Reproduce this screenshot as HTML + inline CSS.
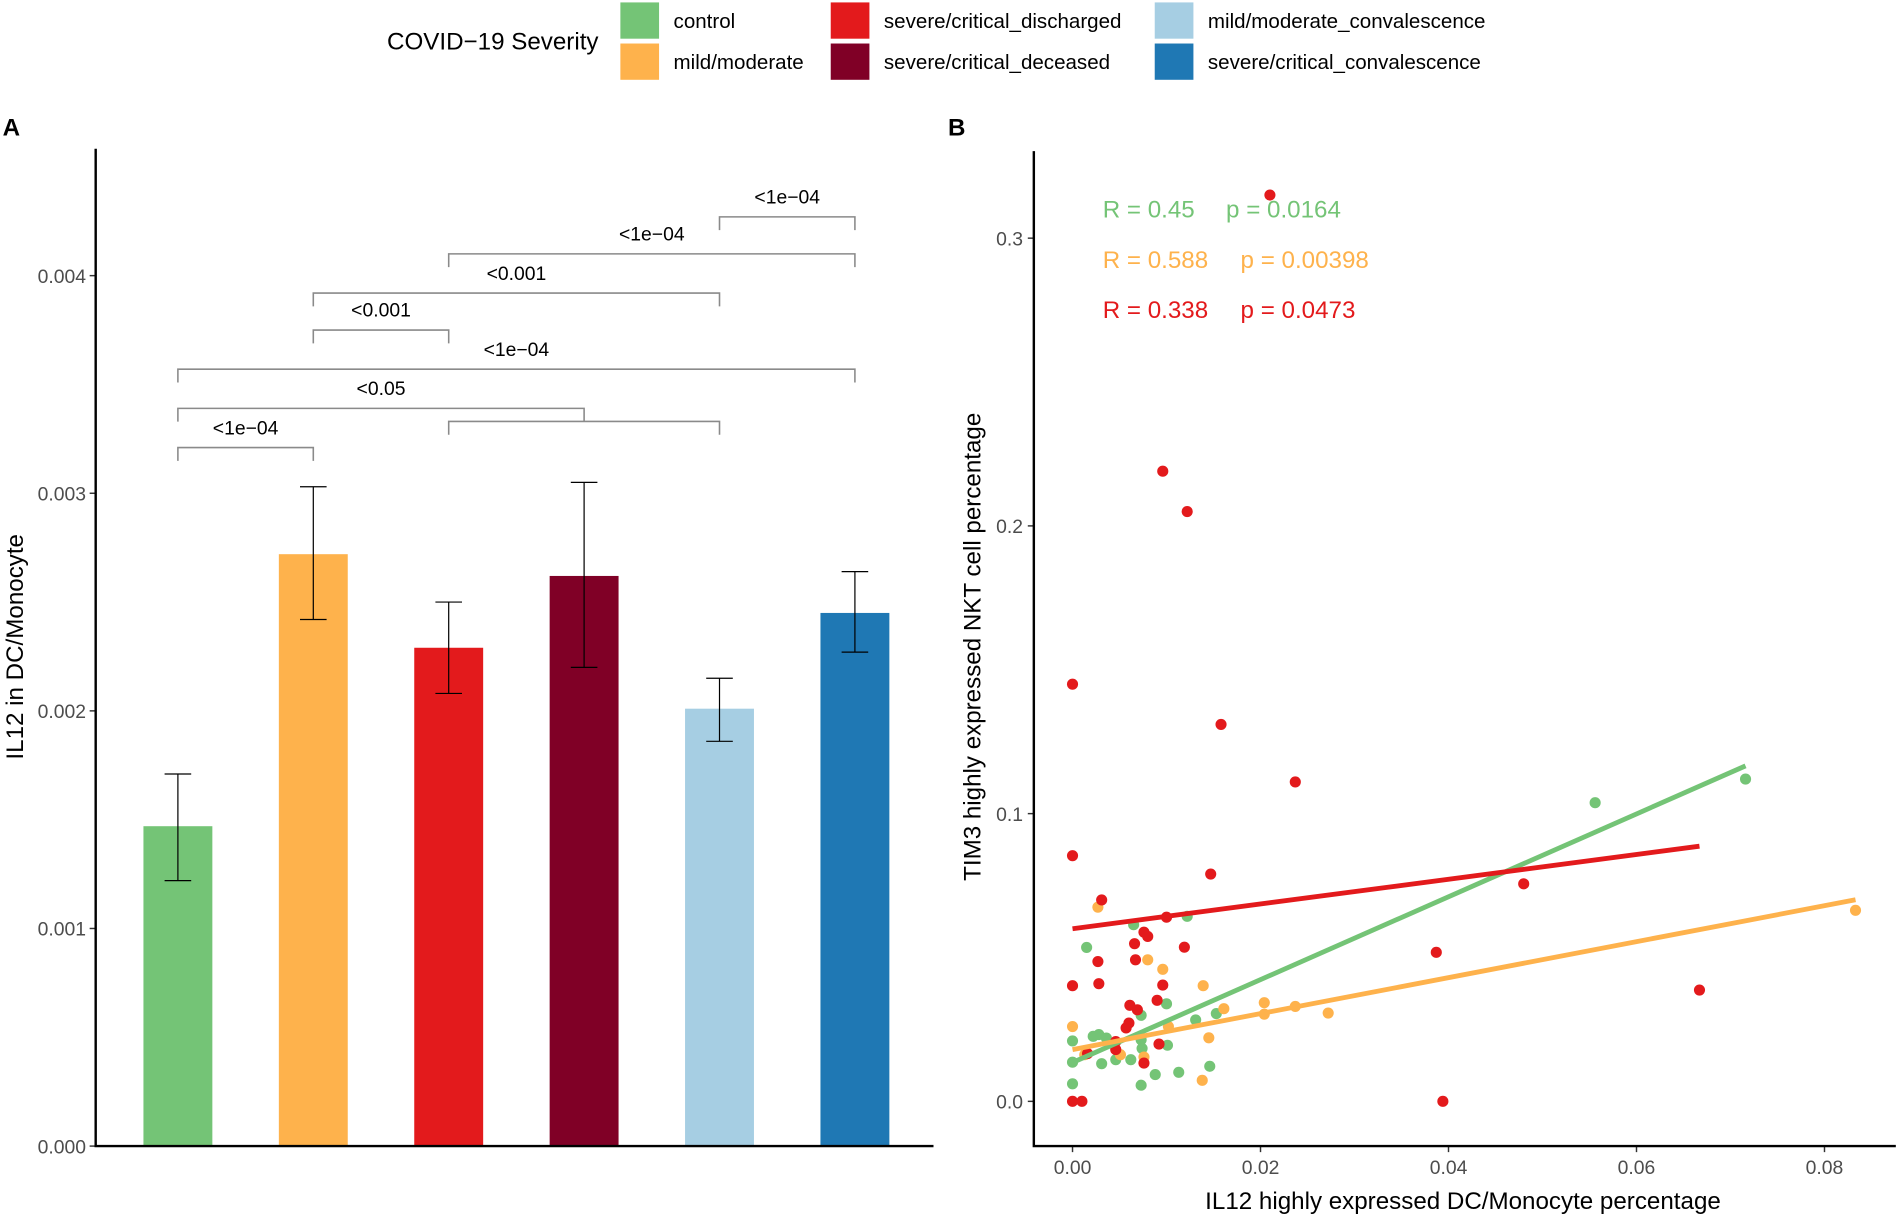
<!DOCTYPE html>
<html><head><meta charset="utf-8"><style>
html,body{margin:0;padding:0;background:#fff;}
svg{display:block;font-family:"Liberation Sans",sans-serif;}
</style></head><body>
<svg id="fig" width="1896" height="1215" viewBox="0 0 1568 1005" xmlns="http://www.w3.org/2000/svg">
<g>
<text x="320" y="41" font-size="20">COVID−19 Severity</text>
<g id="legendItems"></g>
</g>
<text x="2" y="112" font-size="20" font-weight="bold">A</text>
<text x="784" y="112" font-size="20" font-weight="bold">B</text>
<g id="panelA"></g>
<g id="panelB"></g>
</svg>
<script>
// ---------- Data ----------
const groups = ["control","mild/moderate","severe/critical_discharged","severe/critical_deceased","mild/moderate_convalescence","severe/critical_convalescence"];
const groupColors = ["#74c476","#feb24c","#e31a1c","#800026","#a6cee3","#1f78b4"];
const barMeans = [0.00147,0.00272,0.00229,0.00262,0.00201,0.00245];
const barLow = [0.00122,0.00242,0.00208,0.00220,0.00186,0.00227];
const barHigh = [0.00171,0.00303,0.00250,0.00305,0.00215,0.00264];
const yTicksA = [0,0.001,0.002,0.003,0.004];
const yTickLabelsA = ["0.000","0.001","0.002","0.003","0.004"];
const bracketFrom = [0,2,0,0,1,1,2,4];
const bracketTo = [1,4,3,5,2,4,5,5];
const bracketLevel = [0.00321,0.00333,0.00339,0.00357,0.00375,0.00392,0.00410,0.00427];
const bracketLabels = ["<1e−04","","<0.05","<1e−04","<0.001","<0.001","<1e−04","<1e−04"];

const greenX = [0.0065,0.0122,0.0015,0.0100,0.0073,0.0131,0.0153,0,0.0022,0.0028,0.0036,0.0073,0.0074,0.0101,0,0.0031,0.0046,0.0062,0.0146,0.0088,0.0113,0.0073,0,0.0556,0.0716];
const greenY = [0.0614,0.0643,0.0535,0.0339,0.0299,0.0283,0.0305,0.0210,0.0226,0.0232,0.0220,0.0214,0.0184,0.0195,0.0136,0.0131,0.0145,0.0145,0.0122,0.0093,0.0101,0.0056,0.0061,0.1038,0.1120];
const orangeX = [0.0027,0.0080,0.0096,0.0139,0,0.0161,0.0204,0.0237,0.0204,0.0272,0.0145,0.0102,0.0051,0.0076,0.0013,0.0138,0.0833];
const orangeY = [0.0675,0.0492,0.0459,0.0402,0.0260,0.0322,0.0343,0.0330,0.0303,0.0307,0.0221,0.0260,0.0162,0.0154,0.0162,0.0073,0.0664];
const redX = [0,0.0031,0.0147,0.0100,0.0076,0.0080,0.0066,0.0119,0.0027,0.0067,0,0.0028,0.0096,0.0090,0.0061,0.0069,0.0060,0.0057,0.0046,0.0046,0.0016,0.0092,0.0076,0,0.0010,0.0387,0.0394,0,0.0158,0.0237,0.0096,0.0122,0.0210,0.0480,0.0667];
const redY = [0.0854,0.0700,0.0790,0.0640,0.0588,0.0573,0.0548,0.0536,0.0486,0.0492,0.0402,0.0409,0.0404,0.0351,0.0334,0.0318,0.0272,0.0255,0.0208,0.0180,0.0166,0.0199,0.0133,0,0,0.0518,0,0.1450,0.1310,0.1110,0.2190,0.2050,0.3150,0.0756,0.0387];
// regression fits (green, orange, red)
const fitIntercept = [0.0135,0.0180,0.0600];
const fitSlope = [1.44,0.625,0.43];
const xTicksB = [0,0.02,0.04,0.06,0.08];
const xTickLabelsB = ["0.00","0.02","0.04","0.06","0.08"];
const yTicksB = [0,0.1,0.2,0.3];
const yTickLabelsB = ["0.0","0.1","0.2","0.3"];
const statR = ["R = 0.45","R = 0.588","R = 0.338"];
const statP = ["p = 0.0164","p = 0.00398","p = 0.0473"];

const NS="http://www.w3.org/2000/svg";
function mk(tag,attrs,parent){const e=document.createElementNS(NS,tag);for(const k in attrs)e.setAttribute(k,attrs[k]);parent.appendChild(e);return e;}

// ---------- Legend ----------
const L=document.getElementById('legendItems');
const legPos=[[513,2],[513,36],[687,2],[687,36],[955,2],[955,36]];
groups.forEach((g,i)=>{
  const r=mk('rect',{x:legPos[i][0],y:legPos[i][1],width:32,height:30,fill:groupColors[i]},L);
  
  
  const t=mk('text',{x:legPos[i][0]+44,y:legPos[i][1]+21,'font-size':17},L);
  t.textContent=g;
  
  
});

// ---------- Panel A ----------
const A=document.getElementById('panelA');
const ax0=79, ay0=948, yPerA=180000;
const yA=v=>ay0-v*yPerA;
const xA=i=>147+i*112;
yTicksA.forEach((v,i)=>{
  mk('line',{x1:ax0-5,x2:ax0,y1:yA(v),y2:yA(v),stroke:'#333','stroke-width':1.2},A);
  const t=mk('text',{x:ax0-8,y:yA(v)+6,'font-size':16,fill:'#4d4d4d','text-anchor':'end'},A);
  t.textContent=yTickLabelsA[i];
  
  
});
barMeans.forEach((v,i)=>{
  const b=mk('rect',{x:xA(i)-28.5,y:yA(v),width:57,height:v*yPerA,fill:groupColors[i]},A);
  
  
  const g=mk('path',{d:`M${xA(i)-11} ${yA(barHigh[i])}H${xA(i)+11}M${xA(i)} ${yA(barHigh[i])}V${yA(barLow[i])}M${xA(i)-11} ${yA(barLow[i])}H${xA(i)+11}`,stroke:'#000','stroke-width':1,fill:'none'},A);
  
  
});
bracketFrom.forEach((f,i)=>{
  const y=yA(bracketLevel[i]), x1=xA(f), x2=xA(bracketTo[i]);
  const p=mk('path',{d:`M${x1} ${y+11}V${y}H${x2}V${y+11}`,stroke:'#8a8a8a','stroke-width':1.3,fill:'none'},A);
  
  
  if(bracketLabels[i]){
    const t=mk('text',{x:(x1+x2)/2,y:y-11,'font-size':16,'text-anchor':'middle'},A);
    t.textContent=bracketLabels[i];
    
    
  }
});
mk('path',{d:`M${ax0} 123V${ay0}H772`,stroke:'#000','stroke-width':2,fill:'none'},A);
const ta=mk('text',{x:0,y:0,'font-size':20,'text-anchor':'middle',transform:'translate(19,535) rotate(-90)'},A);
ta.textContent='IL12 in DC/Monocyte';



// ---------- Panel B ----------
const B=document.getElementById('panelB');
const xB=v=>887+v*7775, yB=v=>911-v*2380;
yTicksB.forEach((v,i)=>{
  mk('line',{x1:850,x2:855,y1:yB(v),y2:yB(v),stroke:'#333','stroke-width':1.2},B);
  const t=mk('text',{x:846,y:yB(v)+6,'font-size':16,fill:'#4d4d4d','text-anchor':'end'},B);
  t.textContent=yTickLabelsB[i];
  
  
});
xTicksB.forEach((v,i)=>{
  mk('line',{x1:xB(v),x2:xB(v),y1:948,y2:953,stroke:'#333','stroke-width':1.2},B);
  const t=mk('text',{x:xB(v),y:971,'font-size':16,fill:'#4d4d4d','text-anchor':'middle'},B);
  t.textContent=xTickLabelsB[i];
  
  
});
const series=[[greenX,greenY,'#74c476','green'],[orangeX,orangeY,'#feb24c','orange'],[redX,redY,'#e31a1c','red']];
series.forEach(([xs,ys,c,nm])=>{
  xs.forEach((x,i)=>{
    const d=mk('circle',{cx:xB(x),cy:yB(ys[i]),r:4.6,fill:c},B);
    
    
  });
});
series.forEach(([xs,ys,c,nm],k)=>{
  const lo=Math.min(...xs), hi=Math.max(...xs), b0=fitIntercept[k], s=fitSlope[k];
  const l=mk('line',{x1:xB(lo),y1:yB(b0+s*lo),x2:xB(hi),y2:yB(b0+s*hi),stroke:c,'stroke-width':4},B);
  
  
});
const statColors=['#74c476','#feb24c','#e31a1c'];
const pOffsets=[102,114,114];
statR.forEach((s,i)=>{
  const t=mk('text',{x:912,y:180+i*41.5,'font-size':20,fill:statColors[i]},B);
  t.textContent=s;
  
  
  const p=mk('text',{x:912+pOffsets[i],y:180+i*41.5,'font-size':20,fill:statColors[i]},B);
  p.textContent=statP[i];
  
  
});
mk('path',{d:'M855 125V948H1568',stroke:'#000','stroke-width':2,fill:'none'},B);
const tbx=mk('text',{x:1210,y:1000,'font-size':20,'text-anchor':'middle'},B);
tbx.textContent='IL12 highly expressed DC/Monocyte percentage';


const tby=mk('text',{x:0,y:0,'font-size':20,'text-anchor':'middle',transform:'translate(811,535) rotate(-90)'},B);
tby.textContent='TIM3 highly expressed NKT cell percentage';


</script>
</body></html>
